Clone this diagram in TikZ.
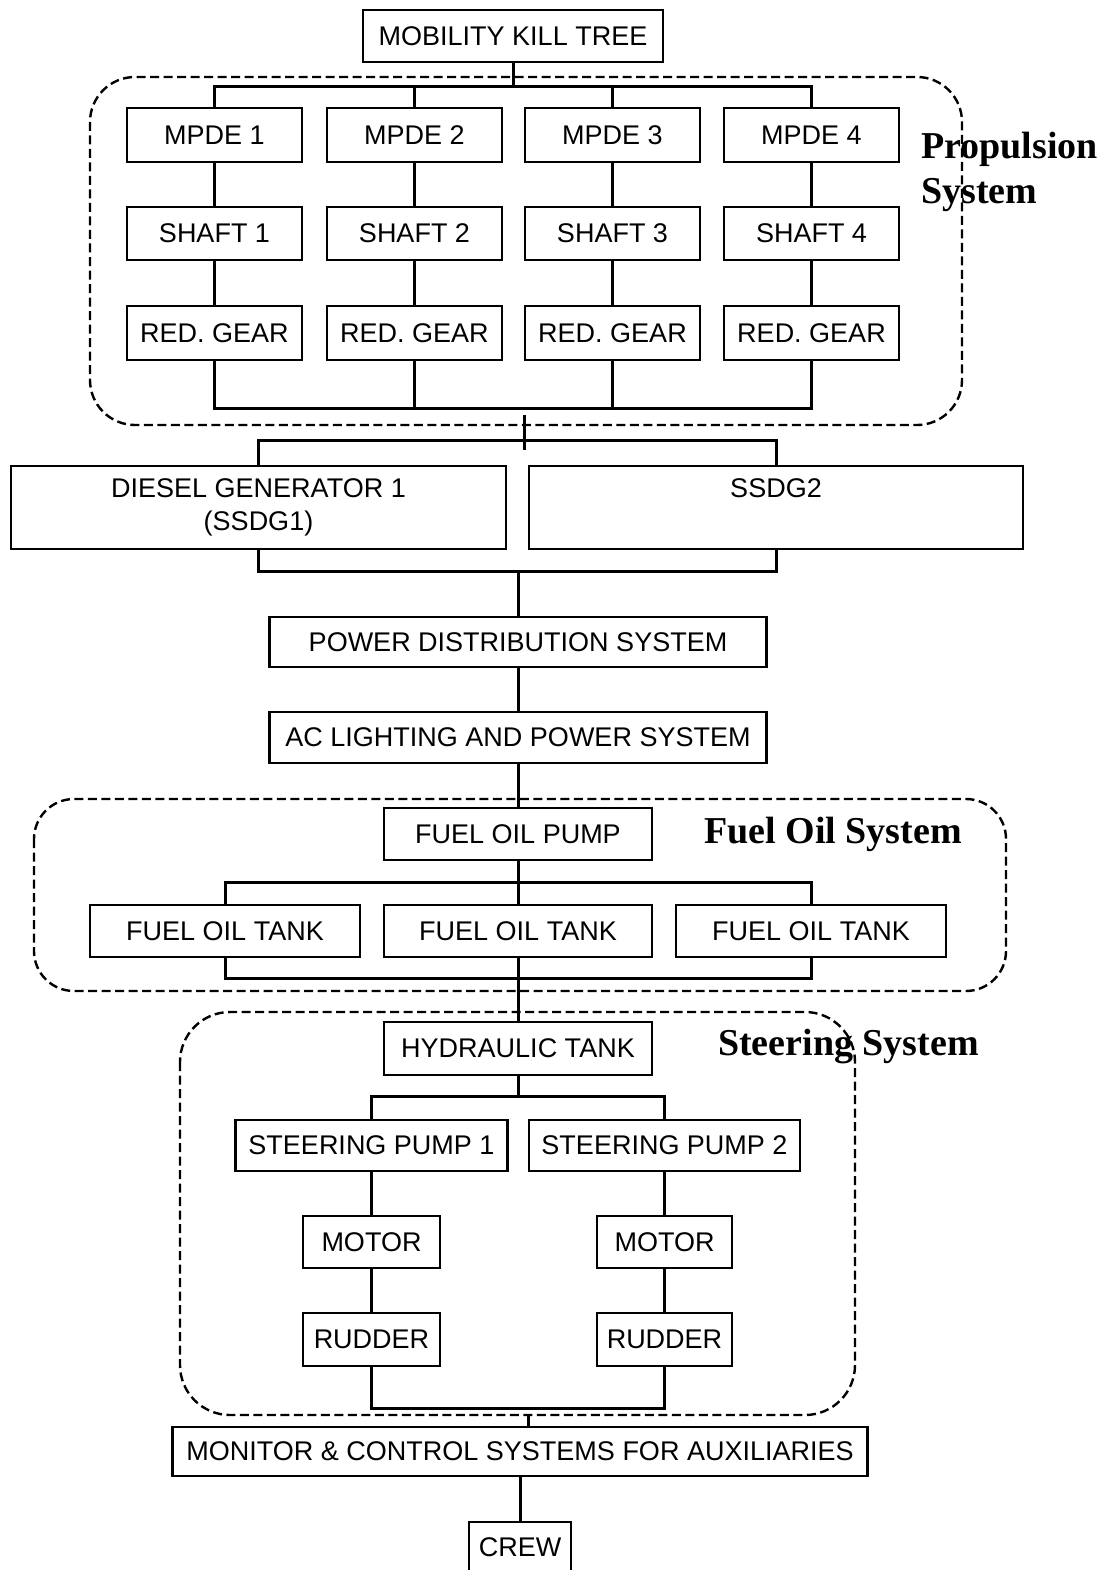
\documentclass[tikz,border=0pt]{standalone}
\usepackage{fontspec}
\setmainfont{Liberation Serif}
\setsansfont{Liberation Sans}
\begin{document}
\begin{tikzpicture}[x=1pt,y=-1pt,
  blk/.style={draw,line width=2.6pt,inner sep=0pt,align=center,
    font=\sffamily\fontsize{27}{33}\selectfont},
  conn/.style={line width=3pt},
  grp/.style={line width=2.4pt,dash pattern=on 9pt off 4.5pt},
  grplabel/.style={font=\rmfamily\bfseries\fontsize{38}{45}\selectfont,inner sep=0pt,align=left}]
\useasboundingbox (0,0) rectangle (1106,1570);

% group frames
\draw[grp,rounded corners=45] (90,77) rectangle (962,425);
\draw[grp,rounded corners=40] (34,799) rectangle (1006,991);
\draw[grp,rounded corners=50] (180,1012) rectangle (855,1415);

% nodes
\node[blk,minimum width=300,minimum height=52] (mkt) at (513,36) {MOBILITY KILL TREE};

\node[blk,minimum width=175,minimum height=54] (mpde1) at (214.5,135) {MPDE 1};
\node[blk,minimum width=175,minimum height=54] (mpde2) at (414.5,135) {MPDE 2};
\node[blk,minimum width=175,minimum height=54] (mpde3) at (612.5,135) {MPDE 3};
\node[blk,minimum width=175,minimum height=54] (mpde4) at (811.5,135) {MPDE 4};

\node[blk,minimum width=175,minimum height=53] (sh1) at (214.5,233.5) {SHAFT 1};
\node[blk,minimum width=175,minimum height=53] (sh2) at (414.5,233.5) {SHAFT 2};
\node[blk,minimum width=175,minimum height=53] (sh3) at (612.5,233.5) {SHAFT 3};
\node[blk,minimum width=175,minimum height=53] (sh4) at (811.5,233.5) {SHAFT 4};

\node[blk,minimum width=175,minimum height=54] (rg1) at (214.5,333) {RED. GEAR};
\node[blk,minimum width=175,minimum height=54] (rg2) at (414.5,333) {RED. GEAR};
\node[blk,minimum width=175,minimum height=54] (rg3) at (612.5,333) {RED. GEAR};
\node[blk,minimum width=175,minimum height=54] (rg4) at (811.5,333) {RED. GEAR};

\node[grplabel,anchor=north west] (lprop) at (921,132) {Propulsion\\System};

\node[blk,minimum width=495,minimum height=83] (dg1) at (258.5,507.5) {DIESEL GENERATOR 1\\(SSDG1)};
\node[blk,minimum width=494,minimum height=83] (dg2) at (776,507.5) {SSDG2\\\phantom{(SSDG1)}};

\node[blk,minimum width=497,minimum height=50] (pds) at (518,642) {POWER DISTRIBUTION SYSTEM};
\node[blk,minimum width=497,minimum height=51] (acl) at (518,737.5) {AC LIGHTING AND POWER SYSTEM};

\node[blk,minimum width=268,minimum height=52] (fop) at (518,834) {FUEL OIL PUMP};
\node[grplabel,anchor=west] (lfuel) at (704,834) {Fuel Oil System};
\node[blk,minimum width=270,minimum height=52] (fot1) at (225,931) {FUEL OIL TANK};
\node[blk,minimum width=268,minimum height=52] (fot2) at (518,931) {FUEL OIL TANK};
\node[blk,minimum width=270,minimum height=52] (fot3) at (811,931) {FUEL OIL TANK};

\node[blk,minimum width=268,minimum height=53] (hyd) at (518,1048.5) {HYDRAULIC TANK};
\node[grplabel,anchor=west] (lsteer) at (718,1046) {Steering System};
\node[blk,minimum width=272,minimum height=51] (sp1) at (371.5,1145.5) {STEERING PUMP 1};
\node[blk,minimum width=271,minimum height=51] (sp2) at (664.5,1145.5) {STEERING PUMP 2};
\node[blk,minimum width=137,minimum height=52] (mot1) at (371.5,1242) {MOTOR};
\node[blk,minimum width=135,minimum height=52] (mot2) at (664.5,1242) {MOTOR};
\node[blk,minimum width=137,minimum height=53] (rud1) at (371.5,1339.5) {RUDDER};
\node[blk,minimum width=135,minimum height=53] (rud2) at (664.5,1339.5) {RUDDER};

\node[blk,minimum width=695,minimum height=49] (mcs) at (520,1451.5) {MONITOR \& CONTROL SYSTEMS FOR AUXILIARIES};
\node[blk,minimum width=102,minimum height=50] (crew) at (520,1547) {CREW};

% bus coordinates
\coordinate (pbus) at (513,87);
\coordinate (pbot) at (524,408);
\coordinate (ps1) at (524,415);
\coordinate (ps2) at (524,450);
\coordinate (gbus) at (524,440);
\coordinate (gbot) at (518,571);
\coordinate (fbus) at (518,882);
\coordinate (fbot) at (518,978);
\coordinate (hbus) at (518,1096);
\coordinate (rbot) at (518,1408);
\coordinate (ss) at (528,1415);

% connectors: propulsion
\draw[conn] (mkt.south) -- (pbus);
\draw[conn] (mpde1.north) |- (pbus) -| (mpde4.north);
\draw[conn] (mpde2.north) -- (mpde2.north |- pbus);
\draw[conn] (mpde3.north) -- (mpde3.north |- pbus);
\foreach \i in {1,2,3,4}{
  \draw[conn] (mpde\i) -- (sh\i);
  \draw[conn] (sh\i) -- (rg\i);
}
\draw[conn] (rg1.south) |- (pbot) -| (rg4.south);
\draw[conn] (rg2.south) -- (rg2.south |- pbot);
\draw[conn] (rg3.south) -- (rg3.south |- pbot);
\draw[conn] (ps1) -- (ps2);

% generators
\draw[conn] (dg1.north) |- (gbus) -| (dg2.north);
\draw[conn] (dg1.south) |- (gbot) -| (dg2.south);
\draw[conn] (gbot) -- (pds.north);
\draw[conn] (pds) -- (acl);
\draw[conn] (acl) -- (fop);

% fuel oil
\draw[conn] (fop) -- (fot2);
\draw[conn] (fot1.north) |- (fbus) -| (fot3.north);
\draw[conn] (fot1.south) |- (fbot) -| (fot3.south);
\draw[conn] (fot2) -- (hyd);

% steering
\draw[conn] (hyd.south) -- (hbus);
\draw[conn] (sp1.north) |- (hbus) -| (sp2.north);
\draw[conn] (sp1) -- (mot1);
\draw[conn] (mot1) -- (rud1);
\draw[conn] (sp2) -- (mot2);
\draw[conn] (mot2) -- (rud2);
\draw[conn] (rud1.south) |- (rbot) -| (rud2.south);
\draw[conn] (ss) -- (ss |- mcs.north);
\draw[conn] (mcs) -- (crew);
\end{tikzpicture}
\end{document}
